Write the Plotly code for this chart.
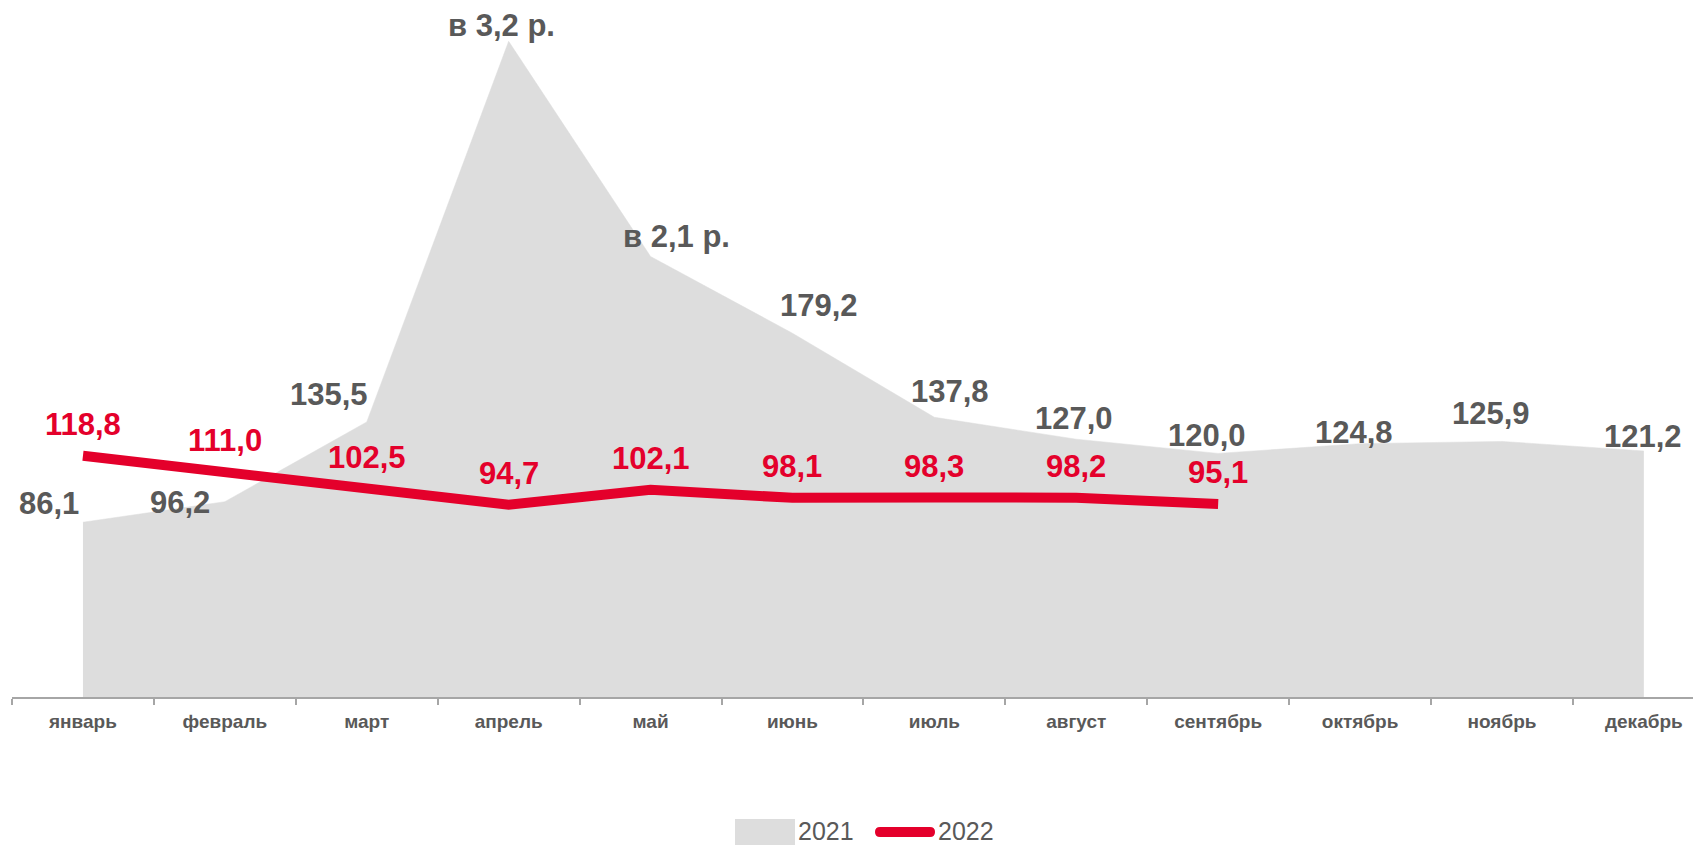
import plotly.graph_objects as go

# ---------------- data ----------------
months = ["январь", "февраль", "март", "апрель", "май", "июнь",
          "июль", "август", "сентябрь", "октябрь", "ноябрь", "декабрь"]
values_2021 = [86.1, 96.2, 135.5, 323.0, 217.0, 179.2, 137.8, 127.0, 120.0, 124.8, 125.9, 121.2]
labels_2021 = ["86,1", "96,2", "135,5", "в 3,2 р.", "в 2,1 р.", "179,2",
               "137,8", "127,0", "120,0", "124,8", "125,9", "121,2"]
values_2022 = [118.8, 111.0, 102.5, 94.7, 102.1, 98.1, 98.3, 98.2, 95.1]
months_2022 = months[:len(values_2022)]
labels_2022 = [f"{v:.1f}".replace(".", ",") for v in values_2022]
series_names = ["2021", "2022"]

# ---------------- style ----------------
GREY_FILL = "#DDDDDD"
RED = "#E4002B"
TEXT = "#595959"
AXIS = "#A6A6A6"
FONT = "Liberation Sans, Arial, sans-serif"

W, H = 1693, 845
ML, MB = 12, 148
PLOT_W, PLOT_H = W - ML, H - MB
PX_PER_UNIT = 2.03
Y_MAX = PLOT_H / PX_PER_UNIT
CAT_W = 141.9
X_MAX = PLOT_W / CAT_W - 0.5

# label offsets (px) for the 2021 labels: (dx, dy up)
offsets_2021 = [(-34, 19), (-45, -1), (-38, 27), (-7, 16), (26, 20), (27, 28),
                (16, 26), (-2, 21), (-11, 18), (-6, 11), (-11, 28), (-1, 14)]
offset_2022 = 31
LABEL_SIZE = 31
LEG_Y = 831  # legend centre line (px from top)

fig = go.Figure()
fig.add_trace(go.Scatter(
    x=months, y=values_2021, name=series_names[0], mode="lines",
    fill="tozeroy", fillcolor=GREY_FILL, line=dict(color=GREY_FILL, width=0.5),
    hoverinfo="skip", showlegend=False))
fig.add_trace(go.Scatter(
    x=months_2022, y=values_2022, name=series_names[1], mode="lines",
    line=dict(color=RED, width=10), hoverinfo="skip", showlegend=False))

annotations = []
for m, v, t, (dx, dy) in zip(months, values_2021, labels_2021, offsets_2021):
    annotations.append(dict(x=m, y=v, xref="x", yref="y", text=t, showarrow=False,
                            xanchor="center", yanchor="middle", xshift=dx, yshift=dy,
                            font=dict(family=FONT, size=LABEL_SIZE, color=TEXT, weight="bold")))
for m, v, t in zip(months_2022, values_2022, labels_2022):
    annotations.append(dict(x=m, y=v, xref="x", yref="y", text=t, showarrow=False,
                            xanchor="center", yanchor="middle", yshift=offset_2022,
                            font=dict(family=FONT, size=LABEL_SIZE, color=RED, weight="bold")))


# ---------------- manual legend ----------------
def px_x(px):
    return (px - ML) / PLOT_W


def px_y(py):
    return (PLOT_H - py) / PLOT_H


shapes = [
    dict(type="rect", xref="paper", yref="paper",
         x0=px_x(735), x1=px_x(795), y0=px_y(LEG_Y + 14), y1=px_y(LEG_Y - 12),
         fillcolor=GREY_FILL, line=dict(width=0), layer="above"),
]
c = LEG_Y + 1
pts = [(880, c - 5), (930, c - 5), (935, c - 5), (935, c), (935, c + 5), (930, c + 5),
       (880, c + 5), (875, c + 5), (875, c), (875, c - 5), (880, c - 5)]
P = [(px_x(a), px_y(b)) for a, b in pts]
path = (f"M{P[0][0]},{P[0][1]} L{P[1][0]},{P[1][1]} Q{P[2][0]},{P[2][1]} {P[3][0]},{P[3][1]} "
        f"Q{P[4][0]},{P[4][1]} {P[5][0]},{P[5][1]} L{P[6][0]},{P[6][1]} "
        f"Q{P[7][0]},{P[7][1]} {P[8][0]},{P[8][1]} Q{P[9][0]},{P[9][1]} {P[10][0]},{P[10][1]} Z")
shapes.append(dict(type="path", xref="paper", yref="paper", path=path,
                   fillcolor=RED, line=dict(width=0), layer="above"))

for name, lx in zip(series_names, [796, 936]):
    annotations.append(dict(x=px_x(lx), y=px_y(LEG_Y), xref="paper", yref="paper",
                            text=name, showarrow=False, xanchor="left", yanchor="middle",
                            font=dict(family=FONT, size=25, color=TEXT)))

fig.update_layout(
    width=W, height=H, autosize=False,
    margin=dict(l=ML, r=0, t=0, b=MB, pad=0),
    paper_bgcolor="white", plot_bgcolor="white",
    showlegend=False,
    annotations=annotations, shapes=shapes,
    xaxis=dict(type="category", categoryorder="array", categoryarray=months,
               range=[-0.5, X_MAX], tickson="boundaries", ticks="outside",
               ticklen=6, tickcolor=AXIS, tickwidth=1.5, showline=True,
               linecolor=AXIS, linewidth=1.5, showgrid=False, zeroline=False,
               ticklabelstandoff=6,
               tickfont=dict(family=FONT, size=19, color=TEXT, weight="bold"),
               fixedrange=True),
    yaxis=dict(visible=False, range=[0, Y_MAX], fixedrange=True, showgrid=False,
               zeroline=False),
)

fig.write_html("out.html", config={"displayModeBar": False},
               post_script="document.body.style.margin='0px';document.body.style.overflow='hidden';")
